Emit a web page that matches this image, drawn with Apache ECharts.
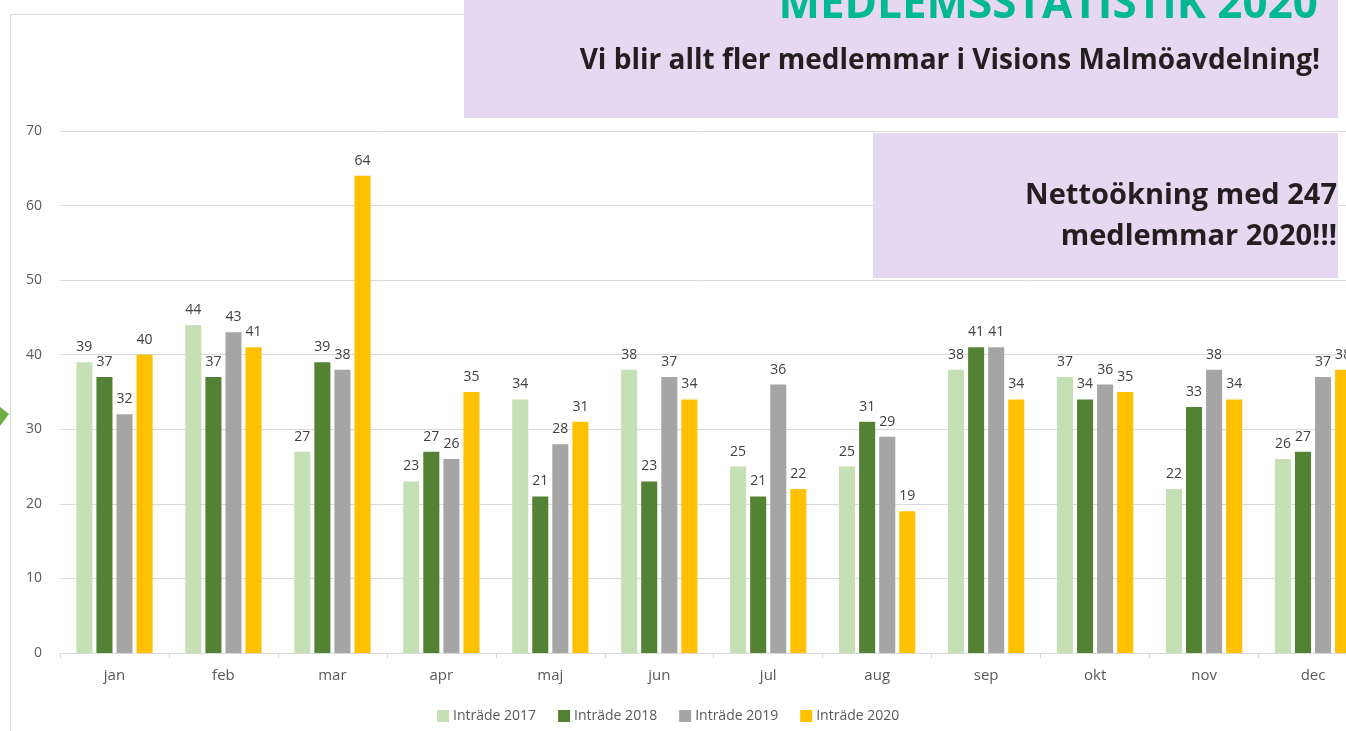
<!DOCTYPE html>
<html>
<head>
<meta charset="utf-8">
<script src="https://cdn.jsdelivr.net/npm/echarts@6/dist/echarts.min.js"></script>
<style>
  html, body { margin: 0; padding: 0; background: #fff; }
  #chart { width: 1346px; height: 731px; }
</style>
</head>
<body>
<div id="chart"></div>
<script>
const months = ['jan', 'feb', 'mar', 'apr', 'maj', 'jun', 'jul', 'aug', 'sep', 'okt', 'nov', 'dec']
const intrade2017 = [39, 44, 27, 23, 34, 38, 25, 25, 38, 37, 22, 26]
const intrade2018 = [37, 37, 39, 27, 21, 23, 21, 31, 41, 34, 33, 27]
const intrade2019 = [32, 43, 38, 26, 28, 37, 36, 29, 41, 36, 38, 37]
const intrade2020 = [40, 41, 64, 35, 31, 34, 22, 19, 34, 35, 34, 38]
const yTicks = { min: 0, max: 70, interval: 10 }

const seriesNames = ['Inträde 2017', 'Inträde 2018', 'Inträde 2019', 'Inträde 2020']
const seriesData = [intrade2017, intrade2018, intrade2019, intrade2020]
const colors = ['#c5e0b4', '#548235', '#a5a5a5', '#ffc000']
const font = "'Open Sans', sans-serif"

const chart = echarts.init(document.getElementById('chart'), null, { renderer: 'canvas' })

const series = seriesData.map((data, i) => ({
  name: seriesNames[i],
  type: 'bar',
  data: data,
  barGap: '25%',
  barCategoryGap: '30%',
  itemStyle: { color: colors[i] },
  label: {
    show: true,
    position: 'top',
    distance: 8,
    color: '#404040',
    fontSize: 14,
    fontFamily: font
  }
}))

const option = {
  backgroundColor: '#fff',
  animation: false,
  // the plot runs past the right edge of the picture (dec is cut off)
  grid: { left: 60, width: 1307.5, top: 131, height: 522, outerBoundsMode: 'none' },
  legend: {
    data: seriesNames,
    left: 432,
    top: 704,
    itemWidth: 12,
    itemHeight: 12,
    itemGap: 22,
    icon: 'rect',
    textStyle: { color: '#595959', fontSize: 14, fontFamily: font, padding: [0, 0, 0, -1] }
  },
  xAxis: {
    type: 'category',
    data: months,
    axisLine: { lineStyle: { color: '#d9d9d9' } },
    axisTick: { show: true, length: 5, lineStyle: { color: '#d9d9d9' } },
    axisLabel: { color: '#595959', fontSize: 15, fontFamily: font, margin: 15 }
  },
  yAxis: {
    type: 'value',
    min: yTicks.min,
    max: yTicks.max,
    interval: yTicks.interval,
    axisLine: { show: false },
    axisTick: { show: false },
    axisLabel: { color: '#595959', fontSize: 14, fontFamily: font, margin: 18 },
    splitLine: { lineStyle: { color: '#d9d9d9', width: 1 } }
  },
  graphic: [
    // chart area border
    {
      type: 'polyline', z: 90,
      shape: { points: [[10.5, 731], [10.5, 14.5], [470, 14.5]] },
      style: { stroke: '#d9d9d9', fill: null, lineWidth: 1 }
    },
    // green arrow at left edge
    {
      type: 'polygon', z: 90,
      shape: { points: [[0, 407], [9, 414], [0, 426]] },
      style: { fill: '#70ad47' }
    },
    // banner
    {
      type: 'rect', z: 100,
      shape: { x: 464, y: 0, width: 874, height: 118 },
      style: { fill: '#e6d8f1' }
    },
    {
      type: 'text', z: 101,
      style: {
        text: 'MEDLEMSSTATISTIK 2020',
        x: 1318, y: 27,
        align: 'right', verticalAlign: 'bottom',
        fill: '#00b894',
        font: "bold 44px 'Open Sans', sans-serif"
      }
    },
    {
      type: 'text', z: 101,
      style: {
        text: 'Vi blir allt fler medlemmar i Visions Malmöavdelning!',
        x: 1320, y: 61,
        align: 'right', verticalAlign: 'middle',
        fill: '#231f20',
        font: "bold 28px 'Open Sans', sans-serif"
      }
    },
    {
      type: 'rect', z: 100,
      shape: { x: 873, y: 133, width: 465, height: 145 },
      style: { fill: '#e6d8f1' }
    },
    {
      type: 'text', z: 101,
      style: {
        text: 'Nettoökning med 247\nmedlemmar 2020!!!',
        x: 1337, y: 216,
        align: 'right', verticalAlign: 'middle',
        fill: '#231f20',
        lineHeight: 41,
        font: "bold 29px 'Open Sans', sans-serif"
      }
    }
  ],
  series: series
}

chart.setOption(option)
window.addEventListener('resize', chart.resize)
</script>
</body>
</html>
